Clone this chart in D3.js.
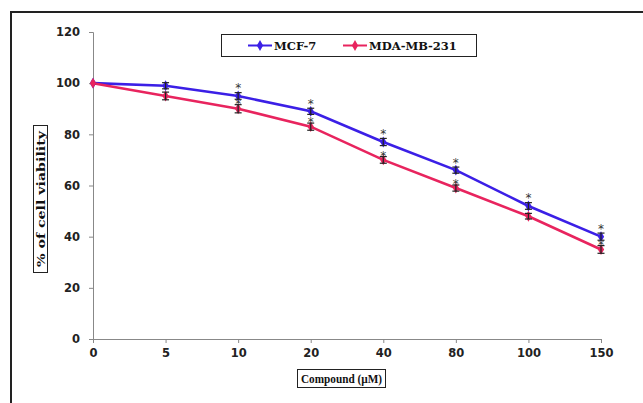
<!DOCTYPE html>
<html><head><meta charset="utf-8">
<script src="https://cdn.jsdelivr.net/npm/d3@7"></script>
<style>body{margin:0;background:#fff}svg{display:block}</style>
</head><body>
<script>
const categories = ["0","5","10","20","40","80","100","150"];
const mcf7 = [100, 99, 95, 89, 77, 66, 52, 40];
const mcf7Err = [0.8, 1.2, 1.3, 1.2, 1.4, 1.2, 1.3, 1.4];
const mda = [100, 95, 90, 83, 70, 59, 48, 35];
const mdaErr = [0.8, 1.5, 1.6, 1.4, 1.3, 1.2, 1.1, 1.5];
const mcf7Star = [false, false, true, true, true, true, true, true];
const mdaStar = [false, false, true, true, true, true, false, true];
const yTicks = [0, 20, 40, 60, 80, 100, 120];
const seriesNames = ["MCF-7", "MDA-MB-231"];
const colors = ["#3b1fe6", "#e8245e"];

const W = 643, H = 403;
const svg = d3.select("body").append("svg").attr("width", W).attr("height", H);

// outer frame
svg.append("rect").attr("x", 11).attr("y", 12).attr("width", W).attr("height", H)
  .attr("fill", "none").attr("stroke", "#222").attr("stroke-width", 2);

const x = d3.scalePoint().domain(categories).range([93, 601]);
const y = d3.scaleLinear().domain([0, 120]).range([339, 32]);

// axes
const gx = svg.append("g").attr("transform", "translate(0,339)")
  .call(d3.axisBottom(x).tickSize(4).tickPadding(6));
gx.selectAll("path,line").attr("stroke", "#888");
gx.selectAll("text").attr("font-family", "DejaVu Sans").attr("font-weight", "bold")
  .attr("font-size", 11.5).attr("fill", "#222");

const gy = svg.append("g").attr("transform", "translate(93,0)")
  .call(d3.axisLeft(y).tickValues(yTicks).tickSize(4).tickPadding(9));
gy.selectAll("path,line").attr("stroke", "#888");
gy.selectAll("text").attr("font-family", "DejaVu Sans").attr("font-weight", "bold")
  .attr("font-size", 11.5).attr("fill", "#222");

const series = [
  {vals: mcf7, err: mcf7Err, star: mcf7Star, color: colors[0], starShift: -0.5},
  {vals: mda, err: mdaErr, star: mdaStar, color: colors[1], starShift: 3.3}
];
const line = d3.line().x((d, i) => x(categories[i])).y(d => y(d));
const diamond = d3.symbol().type(d3.symbolDiamond).size(34);

series.forEach(s => {
  svg.append("path").datum(s.vals).attr("d", line).attr("fill", "none")
    .attr("stroke", s.color).attr("stroke-width", 2.6);
});
series.forEach(s => {
  const g = svg.append("g");
  s.vals.forEach((v, i) => {
    const cx = x(categories[i]);
    g.append("path").attr("d", diamond).attr("transform", `translate(${cx},${y(v)})`).attr("fill", s.color);
    if (i > 0) {
      const e = s.err[i];
      g.append("line").attr("x1", cx).attr("x2", cx).attr("y1", y(v - e)).attr("y2", y(v + e)).attr("stroke", "#222").attr("stroke-width", 1.2);
      [v - e, v + e].forEach(t => g.append("line").attr("x1", cx - 3.5).attr("x2", cx + 3.5)
        .attr("y1", y(t)).attr("y2", y(t)).attr("stroke", "#222").attr("stroke-width", 1.2));
    }
  });
});
// significance asterisks
const starG = svg.append("g");
series.forEach(s => {
  s.vals.forEach((v, i) => {
    if (!s.star[i]) return;
    const cx = x(categories[i]);
    starG.append("text").attr("x", cx).attr("y", y(v + s.err[i]) + s.starShift).attr("text-anchor", "middle")
      .attr("font-family", "DejaVu Sans").attr("font-size", 12).attr("fill", "#333").text("*");
  });
});

// legend
const lg = svg.append("g");
lg.append("rect").attr("x", 221.5).attr("y", 34.5).attr("width", 255).attr("height", 22)
  .attr("fill", "#fff").attr("stroke", "#222").attr("stroke-width", 1);
const legX = [248, 343];
seriesNames.forEach((n, i) => {
  lg.append("line").attr("x1", legX[i]).attr("x2", legX[i] + 24).attr("y1", 45.5).attr("y2", 45.5)
    .attr("stroke", colors[i]).attr("stroke-width", 2);
  lg.append("path").attr("d", diamond).attr("transform", `translate(${legX[i] + 12},45.5)`).attr("fill", colors[i]);
  lg.append("text").attr("x", legX[i] + 26).attr("y", 50).attr("font-family", "DejaVu Serif")
    .attr("font-weight", "bold").attr("font-size", 11.5).attr("fill", "#111").text(n);
});

// axis titles
svg.append("rect").attr("x", 297.5).attr("y", 369.5).attr("width", 88).attr("height", 18)
  .attr("fill", "#fff").attr("stroke", "#222");
svg.append("text").attr("x", 341.5).attr("y", 383).attr("text-anchor", "middle")
  .attr("font-family", "Liberation Serif").attr("font-weight", "bold").attr("font-size", 13)
  .attr("textLength", 81).attr("lengthAdjust", "spacingAndGlyphs")
  .attr("fill", "#111").text("Compound (µM)");

svg.append("rect").attr("x", 33.5).attr("y", 125.5).attr("width", 14).attr("height", 147)
  .attr("fill", "#fff").attr("stroke", "#222");
svg.append("text").attr("transform", "translate(44.5,199) rotate(-90)").attr("text-anchor", "middle")
  .attr("font-family", "DejaVu Serif").attr("font-weight", "bold").attr("font-size", 11)
  .attr("textLength", 136).attr("lengthAdjust", "spacingAndGlyphs")
  .attr("fill", "#111").text("% of cell viability");
</script>
</body></html>
